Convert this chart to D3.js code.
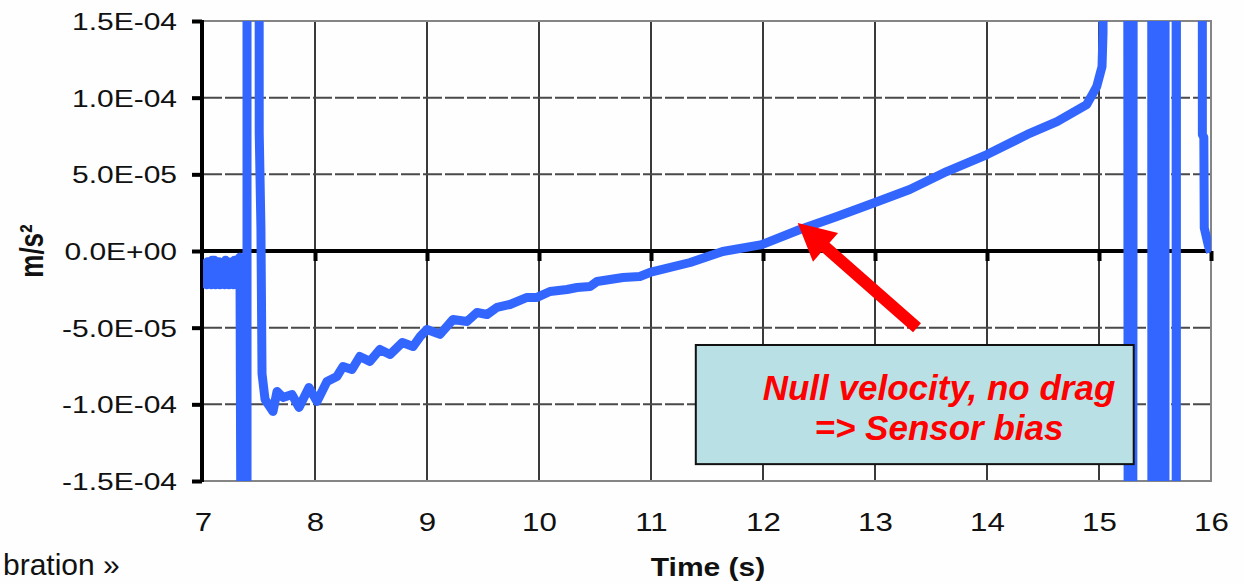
<!DOCTYPE html>
<html><head><meta charset="utf-8">
<script src="https://cdn.jsdelivr.net/npm/d3@7"></script>
<style>html,body{margin:0;padding:0;background:#fefefe;overflow:hidden}</style>
</head><body>
<svg id="c" width="1244" height="583"></svg>
<script>
// ---- data (time in s, acceleration in m/s²) ----
const time = [
  7.000,7.010,7.020,7.030,7.040,7.050,7.060,7.070,7.080,7.090,7.100,7.110,7.120,7.130,7.140,7.150,7.160,7.170,7.180,7.190,7.200,7.210,7.220,7.230,7.240,7.250,7.260,7.270,7.280,7.290,7.300,7.310,7.320,7.330,
  7.348,7.393,7.393,7.500,7.502,7.517,7.527,
  7.554,7.625,7.661,7.714,7.795,7.857,7.946,8.018,8.107,8.196,8.250,8.330,8.400,8.490,8.580,8.670,8.780,8.875,8.940,
  9.000,9.116,9.232,9.357,9.446,9.536,9.625,9.741,9.893,9.982,10.098,10.250,10.340,10.455,10.518,10.634,10.750,10.900,10.990,
  11.350,11.640,11.990,12.330,12.660,13.000,13.310,13.640,14.000,14.360,14.625,14.890,14.950,14.980,15.027,15.036,15.040,
  15.255,15.262,15.300,15.307,15.470,15.473,15.527,15.530,15.585,15.588,15.591,15.688,15.690,15.692,15.922,15.923,15.936,15.940,15.975,15.995
];
const accel = [
  -0.9e-5,-2.1e-5,-0.8e-5,-2.2e-5,-0.7e-5,-2.1e-5,-0.8e-5,-2.2e-5,-0.6e-5,-2.1e-5,-0.6e-5,-2.2e-5,-0.7e-5,-2.1e-5,-0.7e-5,-2.2e-5,-0.8e-5,
  -2.1e-5,-0.8e-5,-2.2e-5,-0.6e-5,-2.1e-5,-0.7e-5,-2.2e-5,-0.8e-5,-2.1e-5,-0.7e-5,-2.2e-5,-0.6e-5,-2.1e-5,-0.6e-5,-2.2e-5,-0.5e-5,-0.4e-5,
  -40e-5,-40e-5,40e-5,40e-5,7.7e-5,1.6e-5,-8.0e-5,
  -9.68e-5,-10.46e-5,-9.16e-5,-9.55e-5,-9.36e-5,-10.20e-5,-8.90e-5,-9.81e-5,-8.51e-5,-8.18e-5,-7.53e-5,-7.73e-5,-6.88e-5,-7.20e-5,-6.42e-5,-6.75e-5,-5.97e-5,-6.23e-5,-5.57e-5,
  -5.12e-5,-5.44e-5,-4.47e-5,-4.60e-5,-4.01e-5,-4.14e-5,-3.68e-5,-3.49e-5,-3.03e-5,-3.03e-5,-2.64e-5,-2.51e-5,-2.38e-5,-2.32e-5,-1.99e-5,-1.86e-5,-1.73e-5,-1.66e-5,-1.40e-5,
  -0.75e-5,-0.03e-5,0.42e-5,1.40e-5,2.25e-5,3.16e-5,4.01e-5,5.18e-5,6.29e-5,7.60e-5,8.44e-5,9.55e-5,10.33e-5,10.73e-5,12.03e-5,14.25e-5,40e-5,
  40e-5,-40e-5,-40e-5,40e-5,40e-5,-40e-5,-40e-5,40e-5,40e-5,-40e-5,40e-5,40e-5,-40e-5,40e-5,40e-5,7.6e-5,7.4e-5,1.5e-5,0.4e-5,-0.1e-5
];
const xTicks = [7,8,9,10,11,12,13,14,15,16];
const xTickLabels = ["7","8","9","10","11","12","13","14","15","16"];
const yTicks = [-1.5e-4,-1.0e-4,-5.0e-5,0,5.0e-5,1.0e-4,1.5e-4];
const yTickLabels = ["-1.5E-04","-1.0E-04","-5.0E-05","0.0E+00","5.0E-05","1.0E-04","1.5E-04"];
const xTitle = "Time (s)";
const yTitle = "m/s²";
const noteLines = ["Null velocity, no drag", "=> Sensor bias"];
const noteBox = {t0: 11.40, t1: 15.31, v0: -6.13e-5, v1: -1.39e-4};
const arrowTip = {t: 12.31, v: 1.83e-5};
const arrowTail = {t: 13.375, v: -5.0e-5};
const slideText = "bration »";

// ---- layout ----
const svg = d3.select("#c");
const FONT = "'Liberation Sans', Arial, Helvetica, sans-serif";
const SX = 1.25; // chart text is horizontally stretched in the reference
const x = d3.scaleLinear([7, 16], [203, 1211]);
const y = d3.scaleLinear([-1.5e-4, 1.5e-4], [481, 21]);
const [X0, X1] = x.range();
const [Y1, Y0] = [y.range()[0], y.range()[1]]; // bottom, top

svg.append("rect").attr("width", 1244).attr("height", 583).attr("fill", "#fefefe");

// vertical gridlines
svg.append("g").selectAll("line").data(xTicks.filter(t => t > 7 && t < 16)).join("line")
  .attr("x1", d => x(d)).attr("x2", d => x(d)).attr("y1", Y0).attr("y2", Y1)
  .attr("stroke", "#3a3a3a").attr("stroke-width", 2);

// horizontal dashed gridlines
svg.append("g").selectAll("line").data(yTicks.filter(v => v !== 0 && Math.abs(v) < 1.4e-4)).join("line")
  .attr("x1", X0).attr("x2", X1).attr("y1", d => y(d)).attr("y2", d => y(d))
  .attr("stroke", "#4a4a4a").attr("stroke-width", 2).attr("stroke-dasharray", "19,3");

// plot border (top, right, bottom)
svg.append("path")
  .attr("d", `M${X0},${y(1.5e-4)}H${X1}V${y(-1.5e-4)}H${X0}`)
  .attr("fill", "none").attr("stroke", "#858585").attr("stroke-width", 2);

// zero axis line
svg.append("line").attr("x1", X0).attr("x2", X1).attr("y1", y(0)).attr("y2", y(0))
  .attr("stroke", "#000").attr("stroke-width", 4);

// ticks on the zero line
const zeroAxis = svg.append("g").attr("transform", `translate(0,${y(0)})`)
  .call(d3.axisBottom(x).tickValues(xTicks.filter(t => t > 7)).tickSize(10).tickFormat(""));
zeroAxis.select(".domain").remove();
zeroAxis.selectAll(".tick line").attr("stroke", "#000").attr("stroke-width", 4);

// left axis
const yAxis = svg.append("g").attr("transform", `translate(${X0 - 1},0)`)
  .call(d3.axisLeft(y).tickValues(yTicks).tickSize(10).tickFormat((d, i) => yTickLabels[i]));
yAxis.select(".domain").attr("stroke", "#000").attr("stroke-width", 4).attr("d", `M0,${Y1 + 1}V${Y0 - 1}`);
yAxis.selectAll(".tick line").attr("stroke", "#000").attr("stroke-width", 4);
yAxis.selectAll(".tick text")
  .attr("x", 0).attr("dy", "0.36em")
  .attr("transform", `translate(-25,0) scale(${SX},1)`)
  .attr("font-family", FONT).attr("font-size", 24).attr("fill", "#111").attr("text-anchor", "end");

// bottom labels
const xAxis = svg.append("g").attr("transform", `translate(0,${Y1})`)
  .call(d3.axisBottom(x).tickValues(xTicks).tickSize(0).tickFormat((d, i) => xTickLabels[i]));
xAxis.select(".domain").remove();
xAxis.selectAll(".tick text")
  .attr("y", 0).attr("dy", 0)
  .attr("transform", `translate(0,50) scale(${SX},1)`)
  .attr("font-family", FONT).attr("font-size", 25).attr("fill", "#111");

// axis titles
svg.append("text").text(xTitle)
  .attr("transform", `translate(${(X0 + X1) / 2 + 1},576) scale(1.2,1)`)
  .attr("text-anchor", "middle").attr("font-family", FONT).attr("font-weight", "bold")
  .attr("font-size", 25).attr("fill", "#111");
svg.append("text").text(yTitle)
  .attr("transform", `translate(43,${(Y0 + Y1) / 2}) scale(${SX},1) rotate(-90)`)
  .attr("text-anchor", "middle").attr("font-family", FONT).attr("font-weight", "bold")
  .attr("font-size", 26).attr("fill", "#111");

// data line (clipped to plot area)
svg.append("clipPath").attr("id", "plotclip").append("rect")
  .attr("x", X0).attr("y", Y0).attr("width", X1 - X0).attr("height", Y1 - Y0);
const data = time.map((t, i) => ({t, v: accel[i]}));
svg.append("path").datum(data)
  .attr("clip-path", "url(#plotclip)")
  .attr("d", d3.line().x(d => x(d.t)).y(d => y(d.v)))
  .attr("fill", "none").attr("stroke", "#3366ff").attr("stroke-width", 9)
  .attr("stroke-linejoin", "round").attr("stroke-linecap", "butt");

// red arrow
(function () {
  const tx = x(arrowTip.t), ty = y(arrowTip.v);
  const sx = x(arrowTail.t), sy = y(arrowTail.v);
  const dx = tx - sx, dy = ty - sy, L = Math.hypot(dx, dy);
  const ux = dx / L, uy = dy / L, px = -uy, py = ux;
  const headLen = 37, headW = 19, shaftW = 6;
  const bx = tx - ux * headLen, by = ty - uy * headLen;
  const pts = [
    [sx + px * shaftW, sy + py * shaftW],
    [bx + px * shaftW, by + py * shaftW],
    [bx + px * headW, by + py * headW],
    [tx, ty],
    [bx - px * headW, by - py * headW],
    [bx - px * shaftW, by - py * shaftW],
    [sx - px * shaftW, sy - py * shaftW]
  ];
  svg.append("polygon").attr("points", pts.map(p => p.join(",")).join(" ")).attr("fill", "#ff0000");
})();

// annotation box
const bx0 = x(noteBox.t0), bx1 = x(noteBox.t1), by0 = y(noteBox.v0), by1 = y(noteBox.v1);
svg.append("rect").attr("x", bx0).attr("y", by0).attr("width", bx1 - bx0).attr("height", by1 - by0)
  .attr("fill", "#b9e0e4").attr("stroke", "#111").attr("stroke-width", 2);
svg.append("g").selectAll("text").data(noteLines).join("text")
  .text(d => d)
  .attr("x", 939).attr("y", (d, i) => by0 + 55 + i * 40)
  .attr("text-anchor", "middle").attr("font-family", FONT).attr("font-weight", "bold")
  .attr("font-style", "italic").attr("font-size", 35).attr("fill", "#ff0000");

// slide text fragment at bottom-left
svg.append("text").text(slideText).attr("x", 3).attr("y", 575)
  .attr("font-family", FONT).attr("font-size", 30).attr("fill", "#111");
</script>
</body></html>
